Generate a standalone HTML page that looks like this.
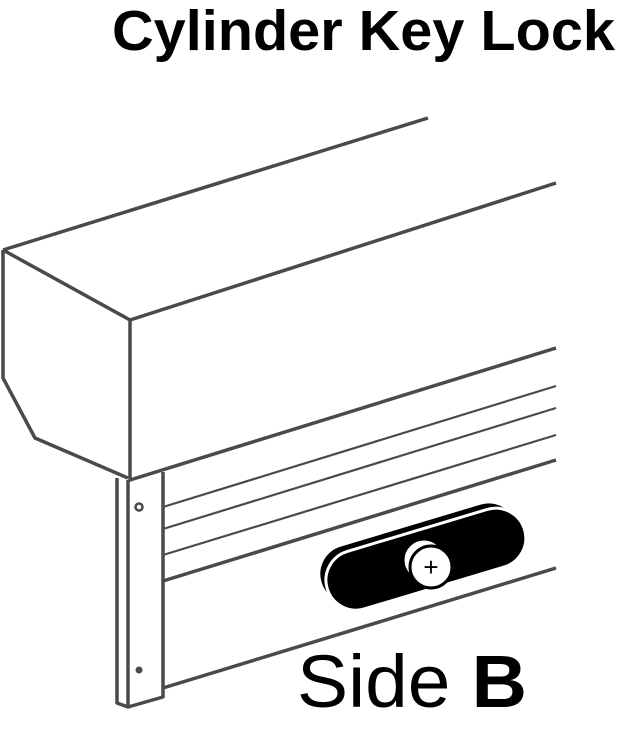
<!DOCTYPE html>
<html><head><meta charset="utf-8"><style>
body{margin:0;background:#fff;width:619px;height:744px;overflow:hidden}
svg{display:block}
</style></head><body>
<svg width="619" height="744" viewBox="0 0 619 744">
<text x="112" y="50" font-family="Liberation Sans, sans-serif" font-weight="bold" font-size="57" textLength="503" lengthAdjust="spacingAndGlyphs" fill="#000">Cylinder Key Lock</text>
<g fill="none" stroke="#4a4a4a" stroke-width="3.5" stroke-linejoin="round">
<path d="M3,250 L428,118"/>
<path d="M3,250 L130,320 L556,183"/>
<path d="M3,250 L3,378 L35,438 L128,478"/>
<path d="M130,320 L130,480 L556,348"/>
<path d="M117,478 L117,703 L128,707 L163,697 L163,472"/>
<path d="M128,480 L128,707"/>
<path d="M163,507 L556,386" stroke-width="2.2"/>
<path d="M163,529 L556,408" stroke-width="2.2"/>
<path d="M163,555 L556,435" stroke-width="2.2"/>
<path d="M163,581 L556,460"/>
<path d="M163,688 L556,568"/>
</g>
<circle cx="139" cy="507" r="3.5" fill="none" stroke="#4a4a4a" stroke-width="2.5"/>
<circle cx="139" cy="670" r="3.5" fill="#4a4a4a"/>
<g transform="rotate(-16.7 423 560)">
<rect x="318" y="522" width="206" height="60" rx="30" fill="#000" stroke="#fff" stroke-width="3"/>
<rect x="323" y="530" width="206" height="60" rx="30" fill="#000" stroke="#fff" stroke-width="3"/>
</g>
<circle cx="424" cy="560" r="21" fill="#fff" stroke="#000" stroke-width="3"/>
<circle cx="431" cy="567" r="21" fill="#fff" stroke="#000" stroke-width="3"/>
<text x="431" y="576" text-anchor="middle" font-family="Liberation Sans, sans-serif" font-size="26" fill="#000">+</text>
<text x="297" y="707" font-family="Liberation Sans, sans-serif" font-size="74" textLength="230" lengthAdjust="spacingAndGlyphs" fill="#000">Side <tspan font-weight="bold">B</tspan></text>
</svg>
</body></html>
